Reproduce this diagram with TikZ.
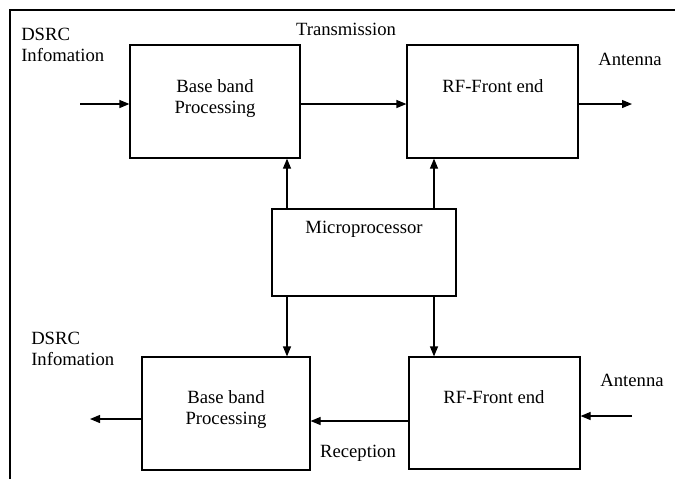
\documentclass[tikz,border=0pt]{standalone}
\usepackage{fontspec}
\setmainfont{Liberation Serif}
\usetikzlibrary{arrows.meta}
\begin{document}
\begin{tikzpicture}[x=0.75pt,y=-0.75pt,
  box/.style={draw, line width=0.9pt, inner sep=0pt},
  lbl/.style={font=\fontsize{14}{15.75}\selectfont, inner sep=0pt, anchor=base, align=center},
  arr/.style={line width=0.9pt, -{Triangle[length=7.5pt,width=6pt]}}]
\useasboundingbox (0,0) rectangle (675,479);
% frame
\draw[line width=1.5pt] (9.5,479) -- (9.5,10) -- (675,10);
% boxes
\node[box, minimum width=170*0.75pt, minimum height=113*0.75pt] (bb1) at (215,101.5) {};
\node[box, minimum width=171*0.75pt, minimum height=113*0.75pt] (rf1) at (492.5,101.5) {};
\node[box, minimum width=184*0.75pt, minimum height=87*0.75pt] (mp) at (364,252.5) {};
\node[box, minimum width=168*0.75pt, minimum height=113*0.75pt] (bb2) at (226,413.5) {};
\node[box, minimum width=171*0.75pt, minimum height=112*0.75pt] (rf2) at (494.5,413) {};
% box texts
\node[lbl] (tbb1) at (215,113) {Base band\\Processing};
\node[lbl] (trf1) at (493,92) {RF-Front end};
\node[lbl] (tmp) at (364,233) {Microprocessor};
\node[lbl] (tbb2) at (226,424) {Base band\\Processing};
\node[lbl] (trf2) at (494,403) {RF-Front end};
% outside labels
\node[lbl, align=left, anchor=base west] (dsrc1) at (21,61) {DSRC\\Infomation};
\node[lbl, align=left, anchor=base west] (dsrc2) at (31,365) {DSRC\\Infomation};
\node[lbl] (trans) at (346,35) {Transmission};
\node[lbl] (ant1) at (630,65) {Antenna};
\node[lbl] (ant2) at (632,386) {Antenna};
\node[lbl] (rec) at (358,457) {Reception};
% free ends
\coordinate (in1) at (80,104);
\coordinate (out1) at (632,104);
\coordinate (in2) at (632,416);
\coordinate (out2) at (90,419);
\coordinate (xl) at (287,0);
\coordinate (xr) at (434,0);
% connectors
\draw[arr] (in1) -- (bb1.west |- in1);
\draw[arr] (bb1.east |- in1) -- (rf1.west |- in1);
\draw[arr] (rf1.east |- out1) -- (out1);
\draw[arr] (mp.north -| xl) -- (bb1.south -| xl);
\draw[arr] (mp.north -| xr) -- (rf1.south -| xr);
\draw[arr] (mp.south -| xl) -- (bb2.north -| xl);
\draw[arr] (mp.south -| xr) -- (rf2.north -| xr);
\draw[arr] (in2) -- (rf2.east |- in2);
\draw[arr] (rf2.west |- 0,421) -- (bb2.east |- 0,421);
\draw[arr] (bb2.west |- out2) -- (out2);
\end{tikzpicture}
\end{document}
